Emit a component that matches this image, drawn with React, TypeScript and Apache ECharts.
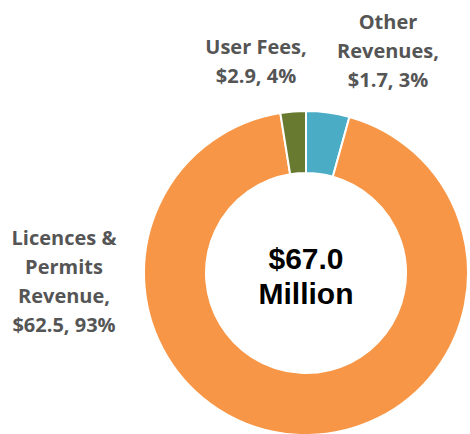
import React, { useEffect, useRef } from "react";
import * as echarts from "echarts";

// Slices clockwise from 12 o'clock
const categories = ["Other Revenues", "Licences & Permits Revenue", "User Fees"];
const sliceValues = [2.9, 62.5, 1.7]; // wedge sizes as drawn
const labelLines = [
  ["Other", "Revenues,", "$1.7, 3%"],
  ["Licences &", "Permits", "Revenue,", "$62.5, 93%"],
  ["User Fees,", "$2.9, 4%"],
];
const sliceColors = ["#4BACC6", "#F79646", "#677A2F"];
const totalText = ["$67.0", "Million"];
const labelPos: [number, number][] = [
  [388, 50],
  [64, 281],
  [256, 61],
];

export default function App() {
  const ref = useRef<HTMLDivElement>(null);
  useEffect(() => {
    document.body.style.margin = "0";
    const chart = echarts.init(ref.current!, undefined, { renderer: "svg" });
    chart.setOption({
      animation: false,
      backgroundColor: "#ffffff",
      graphic: [
        {
          type: "text",
          x: 306,
          y: 276,
          style: {
            text: totalText.join("\n"),
            align: "center",
            verticalAlign: "middle",
            fill: "#000000",
            font: "bold 30px 'Liberation Sans', Arial, sans-serif",
            lineHeight: 35,
          },
        },
      ],
      series: [
        {
          type: "pie",
          center: [306, 273],
          radius: [100, 162],
          startAngle: 90,
          clockwise: true,
          avoidLabelOverlap: false,
          itemStyle: { borderColor: "#ffffff", borderWidth: 2 },
          label: {
            show: true,
            position: "outside",
            formatter: (p: any) => labelLines[p.dataIndex].join("\n"),
            color: "#555555",
            fontFamily: "'Open Sans', sans-serif",
            fontWeight: "bold",
            fontSize: 20,
            lineHeight: 29,
            align: "center",
          },
          labelLine: { show: false },
          labelLayout: (p: any) => ({
            x: labelPos[p.dataIndex][0],
            y: labelPos[p.dataIndex][1],
            align: "center",
            verticalAlign: "middle",
          }),
          data: categories.map((c, i) => ({
            name: c,
            value: sliceValues[i],
            itemStyle: { color: sliceColors[i] },
          })),
        },
      ],
    });
    return () => chart.dispose();
  }, []);
  return <div ref={ref} style={{ position: "absolute", left: 0, top: 0, width: 470, height: 434 }} />;
}
